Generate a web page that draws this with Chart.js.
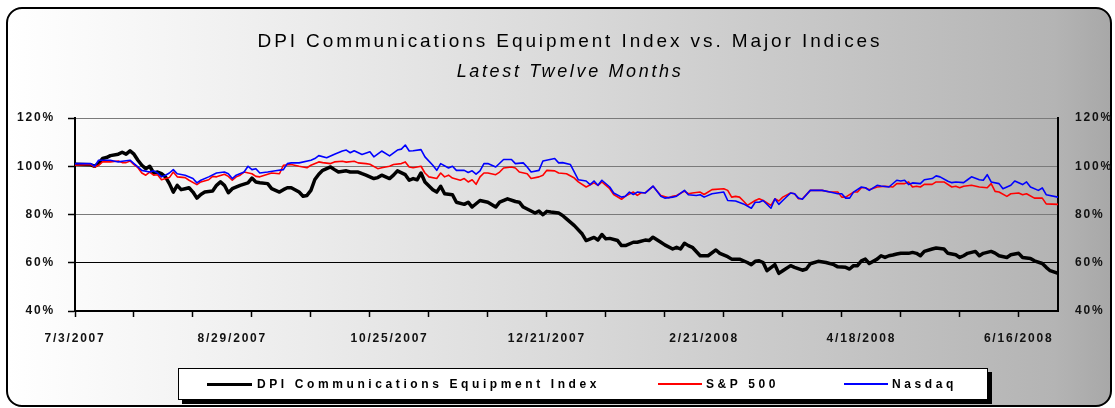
<!DOCTYPE html>
<html>
<head>
<meta charset="utf-8">
<script src="https://cdn.jsdelivr.net/npm/chart.js@4.4.1/dist/chart.umd.min.js"></script>
<style>
  html, body { margin: 0; padding: 0; background: #ffffff; }
  #wrap { position: relative; width: 1115px; height: 408px; overflow: hidden; background: #ffffff; }
  #frame { position: absolute; left: 6px; top: 7px; width: 1106px; height: 400px; box-sizing: border-box;
           border: 2.5px solid #000; border-radius: 16px;
           background: linear-gradient(to right, #ffffff 0%, #ebebeb 28%, #dadada 50%, #c7c7c7 73%, #b4b4b4 95%, #a8a8a8 100%); }
  #chart { position: absolute; left: 0; top: 0; }
  .ttl { position: absolute; left: 0; width: 1140px; text-align: center; white-space: nowrap;
         font-family: 'Liberation Sans', Arial, sans-serif; color: #000; }
  #title { top: 31px; font-size: 19px; line-height: 19px; letter-spacing: 2.9px; }
  #subtitle { top: 62px; font-size: 18px; line-height: 18px; letter-spacing: 2.65px; font-style: italic; }
  #legend { position: absolute; left: 178px; top: 368px; width: 810px; height: 32px; box-sizing: border-box;
            border: 1px solid #000; background: #ffffff; box-shadow: 4px 4px 0 #000; }
  .lg-line { position: absolute; }
  .lg-text { position: absolute; top: 0; line-height: 30px; white-space: nowrap;
             font-family: 'Liberation Sans', Arial, sans-serif; font-weight: bold; font-size: 12px;
             letter-spacing: 3.6px; color: #000; }
</style>
</head>
<body>
<div id="wrap">
  <div id="frame"></div>
  <canvas id="chart" width="1115" height="408"></canvas>
  <div id="title" class="ttl"></div>
  <div id="subtitle" class="ttl"></div>
  <div id="legend"></div>
</div>
<script>
// ---------- text ----------
const chartTitle = 'DPI Communications Equipment Index vs. Major Indices';
const chartSubtitle = 'Latest Twelve Months';
const seriesNames = ['DPI Communications Equipment Index', 'S&P 500', 'Nasdaq'];
const seriesColors = ['#000000', '#ff0000', '#0000ff'];

// ---------- x axis (trading-day index) ----------
const dateLabels = ['7/3/2007', '8/29/2007', '10/25/2007', '12/21/2007', '2/21/2008', '4/18/2008', '6/16/2008'];
const labelDays = [0, 40, 80, 120, 160, 200, 240];
const tickDays = [0, 15, 30, 45, 60, 75, 90, 105, 120, 135, 150, 165, 180, 195, 210, 225, 240];
const lastDay = 250;

// ---------- y axis ----------
const yTicks = [40, 60, 80, 100, 120];

// ---------- DPI Communications Equipment Index ----------
const dpiDay = [0,2,4,5,6,7,8,9,11,12,13,14,15,16,17,18,19,20,21,22,23,24,25,26,27,28,29,30,31,32,33,35,36,37,38,39,40,42,44,45,46,47,49,50,51,52,53,54,55,57,58,59,60,61,62,63,65,66,67,69,70,72,73,74,76,77,78,80,81,82,84,85,86,87,88,89,91,92,93,94,96,97,99,100,101,103,105,107,108,110,112,113,114,117,118,119,120,121,123,124,125,127,129,130,132,133,134,135,136,138,139,140,142,143,145,146,147,149,150,152,153,154,155,156,157,159,161,163,164,166,167,169,171,172,173,174,175,176,178,179,180,182,183,185,186,187,189,191,193,194,196,197,198,199,200,201,202,204,205,206,207,208,209,210,212,213,214,215,216,218,219,221,222,224,225,226,227,229,230,231,233,234,235,237,238,240,241,243,244,246,247,248,250];
const dpiVal = [100.8,100.7,100.6,100.0,101.1,103.2,103.6,104.4,105.0,105.8,105.0,106.4,105.0,102.5,100.4,99.0,100.0,97.2,97.6,96.9,95.6,92.8,89.3,92.1,90.3,90.7,91.1,89.3,86.8,88.3,89.3,89.7,92.1,93.5,92.1,89.0,90.7,92.1,93.1,95.1,93.5,93.2,92.8,90.7,90.0,89.3,90.3,91.1,91.1,89.3,87.6,87.9,90.0,94.5,96.7,98.3,99.7,98.6,97.6,98.1,97.6,97.6,96.9,96.3,94.9,95.3,96.3,94.9,96.3,98.1,96.5,94.2,94.9,94.4,97.2,93.5,90.3,89.3,91.7,88.6,88.2,85.1,84.2,85.1,83.1,85.8,85.1,83.1,85.1,86.5,85.4,85.1,83.1,80.6,81.4,79.9,81.3,81.0,80.6,79.6,78.2,75.4,71.9,69.2,70.5,69.4,71.7,69.9,70.1,69.2,67.1,67.1,68.5,68.5,69.4,69.2,70.6,68.5,67.4,65.7,66.4,65.7,68.1,67.1,66.4,62.9,62.9,65.3,63.9,62.5,61.5,61.5,60.1,59.2,60.6,60.8,60.1,56.7,59.2,55.6,56.7,58.8,58.1,56.9,57.4,59.6,60.6,60.1,59.2,58.3,58.1,57.4,58.8,58.8,60.8,61.5,59.7,61.5,62.9,62.2,62.9,63.2,63.6,63.9,63.9,64.3,63.9,62.9,64.7,65.7,66.1,65.7,63.9,63.3,62.2,62.9,63.9,64.7,62.9,63.9,64.7,64.0,62.9,62.2,63.3,63.9,62.2,61.8,60.8,59.7,58.1,56.7,55.6];

// ---------- S&P 500 ----------
const spDay = [0,4,5,6,7,9,11,12,13,14,15,16,17,18,19,20,21,22,24,25,26,28,29,31,32,34,35,36,38,39,40,41,42,43,45,46,47,49,50,52,53,55,57,59,60,62,63,65,66,68,69,71,72,74,75,77,78,80,81,83,84,85,86,88,89,90,92,93,94,95,96,98,99,100,101,102,103,104,105,107,108,109,111,112,113,115,116,118,119,120,122,123,125,127,128,130,132,133,134,136,137,139,140,142,143,144,145,147,149,151,152,153,155,156,157,159,160,162,165,166,167,168,169,170,171,173,174,175,177,178,179,180,182,183,184,185,187,190,192,194,195,196,198,199,200,201,202,204,206,208,209,211,212,213,214,215,216,218,219,221,223,224,225,226,228,230,232,233,234,235,237,238,240,241,242,244,246,247,250];
const spVal = [100.4,100.7,99.7,100.4,101.8,101.8,102.2,101.5,101.5,102.2,100.7,99.4,97.2,96.3,97.6,96.3,96.5,94.4,95.3,97.6,95.6,95.3,94.2,92.4,93.5,94.4,95.8,95.6,96.7,95.8,94.2,95.6,96.3,97.6,96.9,95.8,95.6,96.7,97.2,96.9,100.4,100.7,100.0,99.4,100.4,101.8,101.5,101.1,101.8,102.1,101.7,102.1,101.4,101.1,100.8,99.0,99.4,100.0,100.7,101.1,101.8,99.7,99.4,100.0,97.2,95.6,94.9,97.2,95.6,96.3,95.1,94.2,94.9,93.5,94.4,92.5,95.6,97.2,97.2,96.5,97.6,99.3,99.7,99.3,97.6,96.9,94.9,95.6,96.3,98.3,98.1,97.2,96.9,95.1,93.5,91.4,93.1,92.1,93.5,90.7,88.3,86.3,87.6,89.3,87.9,89.0,89.0,91.7,87.9,86.9,87.6,87.9,89.7,88.6,88.9,89.3,88.3,90.3,90.7,90.0,87.2,87.5,87.2,85.6,83.8,85.8,86.5,85.8,83.8,86.5,85.6,87.2,88.9,88.6,86.5,86.5,90.0,90.0,89.3,89.3,87.2,87.2,89.3,89.3,91.1,91.1,90.3,91.4,91.7,91.4,92.8,92.8,93.5,91.4,91.7,91.4,92.5,92.5,93.5,93.5,91.4,91.7,91.1,91.7,92.1,91.4,91.1,92.8,89.6,89.3,87.5,88.6,88.9,88.2,88.6,86.8,86.8,84.4,84.2];

// ---------- Nasdaq ----------
const ndqDay = [0,4,5,6,9,11,12,14,15,16,17,19,20,21,22,23,24,25,26,28,30,31,32,34,36,38,39,40,41,43,44,45,46,47,49,51,53,54,55,57,60,61,62,64,66,68,69,70,71,73,75,76,78,80,82,83,84,85,86,88,89,91,92,93,95,96,97,99,100,101,102,103,104,105,107,109,111,112,114,115,116,118,119,122,123,124,126,127,128,130,131,132,133,134,136,137,139,140,141,142,143,145,147,149,150,152,153,155,156,158,159,160,162,165,166,168,170,172,173,174,175,177,178,179,180,182,183,184,185,187,190,192,194,195,196,197,198,200,201,202,204,205,207,209,210,211,212,213,215,216,218,219,220,222,223,224,226,227,228,230,231,232,233,235,236,238,239,241,242,243,245,246,247,250];
const ndqVal = [101.1,101.1,100.0,102.5,102.5,101.8,102.1,102.5,101.1,99.7,98.3,97.6,98.1,97.2,95.6,96.3,97.2,98.6,96.9,96.3,94.9,93.1,94.2,95.6,97.2,97.6,96.9,94.9,96.3,97.6,100.0,98.6,99.0,97.2,97.6,98.1,98.6,101.1,101.4,101.4,102.5,103.2,104.4,103.5,105.0,106.3,106.7,105.6,106.4,104.9,106.0,103.9,106.3,104.3,106.7,107.1,108.8,106.3,106.4,106.9,103.9,100.4,98.3,101.1,99.3,100.0,98.3,98.3,97.4,98.1,96.7,98.1,101.1,101.1,99.7,102.8,102.8,101.1,101.4,99.7,97.6,98.3,102.2,103.2,101.4,101.5,100.7,97.6,94.4,93.9,92.4,93.9,92.1,94.2,91.4,88.9,87.2,87.6,89.3,88.3,89.3,88.9,91.8,87.6,86.8,87.2,87.6,90.0,88.2,87.9,88.2,87.2,88.6,89.3,85.8,85.6,84.4,82.6,85.1,85.1,85.8,82.6,86.5,84.2,85.8,88.9,88.6,86.8,86.3,90.0,90.0,89.3,88.6,88.6,86.8,86.8,89.3,91.4,91.1,90.0,92.1,91.8,91.4,94.2,93.9,94.2,92.4,93.1,92.8,94.4,94.9,96.0,95.6,93.8,93.2,93.5,93.2,94.4,95.6,94.4,94.2,96.5,93.5,92.8,90.7,92.1,93.9,92.4,93.5,91.4,90.0,91.0,88.2,87.2];

// ---------- HTML title + legend ----------
document.getElementById('title').textContent = chartTitle;
document.getElementById('subtitle').textContent = chartSubtitle;
const legendLayout = [
  { lineLeft: 28, lineWidth: 45, lineH: 3, textLeft: 78 },
  { lineLeft: 479, lineWidth: 44, lineH: 1.5, textLeft: 527 },
  { lineLeft: 665, lineWidth: 44, lineH: 1.5, textLeft: 713 }
];
const legendEl = document.getElementById('legend');
seriesNames.forEach((name, k) => {
  const L = legendLayout[k];
  const ln = document.createElement('div');
  ln.className = 'lg-line';
  ln.style.left = L.lineLeft + 'px';
  ln.style.width = L.lineWidth + 'px';
  ln.style.height = L.lineH + 'px';
  ln.style.top = (15 - L.lineH / 2) + 'px';
  ln.style.background = seriesColors[k];
  legendEl.appendChild(ln);
  const tx = document.createElement('div');
  tx.className = 'lg-text';
  tx.style.left = L.textLeft + 'px';
  tx.textContent = name;
  legendEl.appendChild(tx);
});

// ---------- chart ----------
const FONT = { family: "'Liberation Sans', Arial, sans-serif", size: 12, weight: 'bold' };
const spacingPlugin = {
  id: 'spacing',
  beforeUpdate(chart) { chart.ctx.letterSpacing = '1.8px'; },
  beforeDraw(chart) { chart.ctx.letterSpacing = '1.8px'; }
};
const toXY = (days, vals) => days.map((d, i) => ({ x: d, y: vals[i] }));

new Chart(document.getElementById('chart'), {
  type: 'line',
  data: {
    datasets: [
      { label: seriesNames[0], data: toXY(dpiDay, dpiVal), borderColor: seriesColors[0], borderWidth: 3.5, order: 3 },
      { label: seriesNames[1], data: toXY(spDay, spVal), borderColor: seriesColors[1], borderWidth: 1.6, order: 2 },
      { label: seriesNames[2], data: toXY(ndqDay, ndqVal), borderColor: seriesColors[2], borderWidth: 1.6, order: 1 }
    ]
  },
  options: {
    responsive: false,
    animation: false,
    devicePixelRatio: 1,
    layout: { padding: { top: 118, left: 0, right: 0, bottom: 0 }, autoPadding: false },
    elements: { point: { radius: 0, hoverRadius: 0 }, line: { tension: 0, borderJoinStyle: 'round', borderCapStyle: 'round' } },
    plugins: { legend: { display: false }, title: { display: false }, tooltip: { enabled: false } },
    events: [],
    scales: {
      x: {
        type: 'linear', min: 0, max: lastDay,
        afterFit(s) { s.height = 97; },
        afterBuildTicks(s) {
          const vals = Array.from(new Set(tickDays.concat(labelDays))).sort((a, b) => a - b);
          s.ticks = vals.map(v => ({ value: v }));
        },
        ticks: {
          autoSkip: false, maxRotation: 0, minRotation: 0, padding: 14,
          font: FONT, color: '#111',
          callback(v) { const k = labelDays.indexOf(v); return k >= 0 ? dateLabels[k] : ''; }
        },
        grid: {
          drawOnChartArea: false, drawTicks: true, tickLength: 6, tickWidth: 1.5,
          tickColor(c) { return (c.tick && tickDays.includes(c.tick.value)) ? '#000' : 'rgba(0,0,0,0)'; }
        },
        border: { display: true, color: '#000', width: 2 }
      },
      y: {
        type: 'linear', position: 'left', min: yTicks[0], max: yTicks[yTicks.length - 1],
        afterFit(s) { s.width = 75; },
        afterBuildTicks(s) { s.ticks = yTicks.map(v => ({ value: v })); },
        ticks: { padding: 13, font: FONT, color: '#111', callback: v => v + '%' },
        grid: {
          color(c) { return (c.tick && c.tick.value === 60) ? '#000000' : '#7a7a7a'; },
          lineWidth: 1, tickLength: 7, tickWidth: 1.5, tickColor: '#000'
        },
        border: { color: '#000', width: 2 }
      },
      y2: {
        type: 'linear', position: 'right', min: yTicks[0], max: yTicks[yTicks.length - 1],
        afterFit(s) { s.width = 57; },
        afterBuildTicks(s) { s.ticks = yTicks.map(v => ({ value: v })); },
        ticks: { padding: 17, font: FONT, color: '#111', callback: v => v + '%' },
        grid: { drawOnChartArea: false, drawTicks: false },
        border: { color: '#000', width: 2 }
      }
    }
  },
  plugins: [spacingPlugin]
});
</script>
</body>
</html>
